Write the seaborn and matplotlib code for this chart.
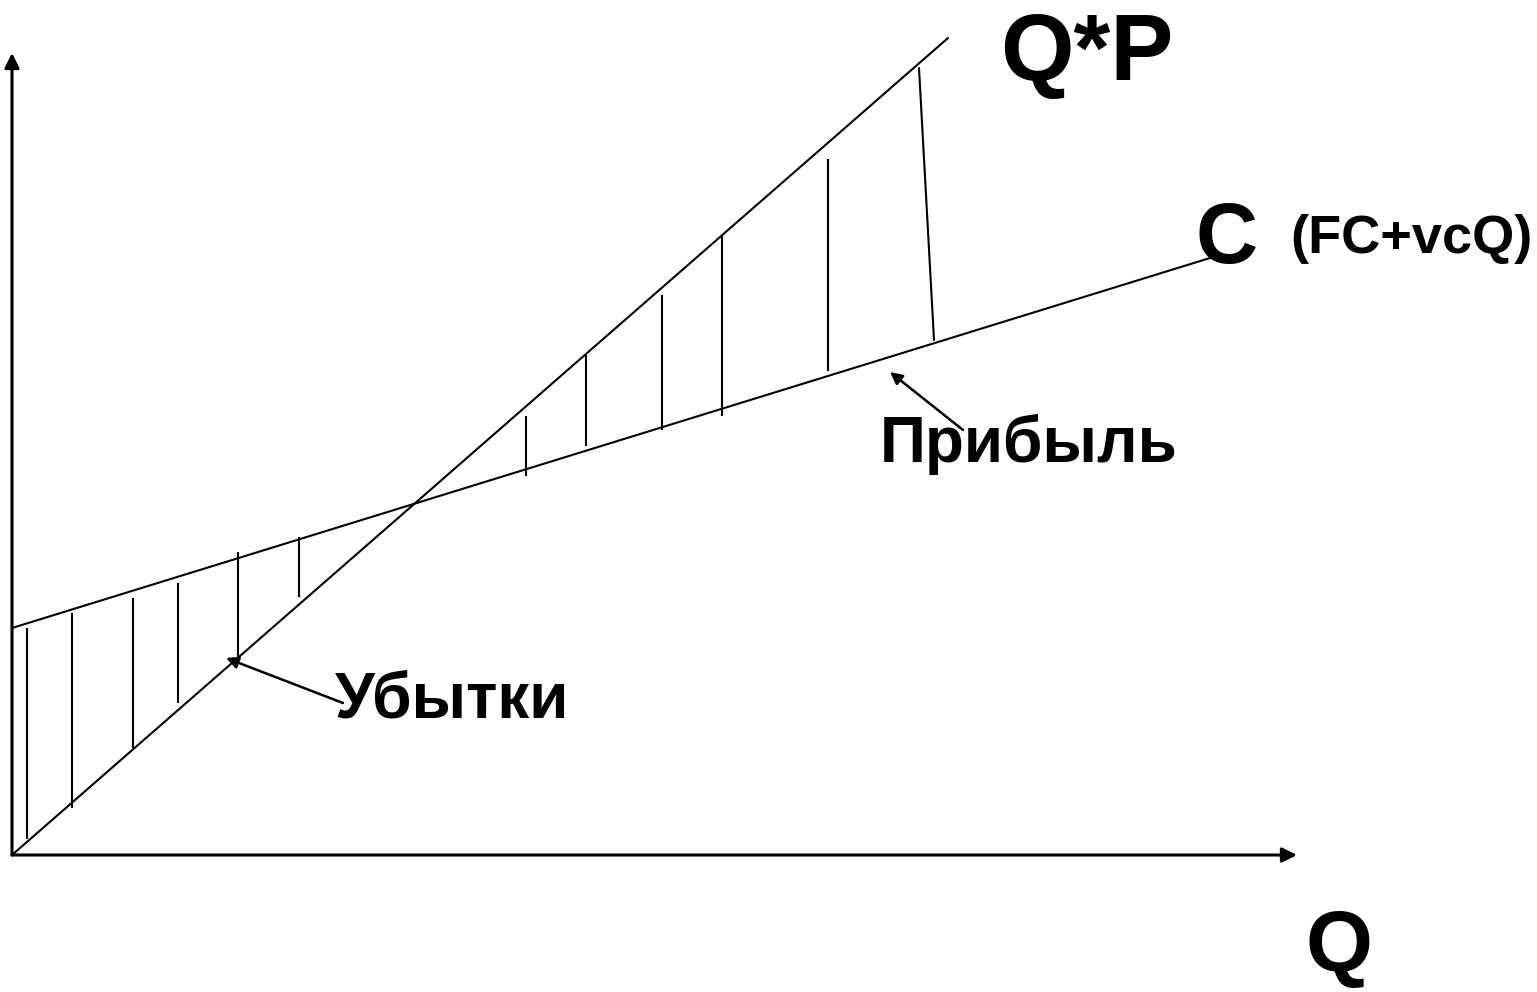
# Точка безубыточности: выручка Q*P и затраты C = FC + vc*Q
import seaborn as sns
import matplotlib.pyplot as plt
import pandas as pd

# выручка и затраты
q_rev = [0, 9.36]
rev = [0, 8.17]
q_cost = [0, 11.98]
cost = [2.27, 5.97]

# штриховка зоны убытков
loss_q = [0.15, 0.60, 1.21, 1.66, 2.26, 2.87]
loss_top = [2.27, 2.42, 2.57, 2.72, 3.03, 3.18]
loss_bottom = [0.16, 0.47, 1.07, 1.52, 1.98, 2.58]

# штриховка зоны прибыли
profit_q = [5.14, 5.74, 6.50, 7.10, 8.16]
profit_top = [4.39, 5.00, 5.60, 6.20, 6.96]
profit_bottom = [3.79, 4.09, 4.25, 4.39, 4.84]
last_q = [9.07, 9.22]
last_val = [7.87, 5.15]

sns.set_style('white')
plt.rcParams['font.family'] = ['Liberation Sans', 'DejaVu Sans']
plt.rcParams['font.weight'] = 'bold'
plt.rcParams['text.color'] = 'black'

fig = plt.figure(figsize=(15.37, 9.92), dpi=100)
ax = fig.add_axes([0, 0, 1, 1])

df_rev = pd.DataFrame({'Q': q_rev, 'V': rev})
df_cost = pd.DataFrame({'Q': q_cost, 'V': cost})
sns.lineplot(x='Q', y='V', data=df_rev, color='black', lw=1.5, ax=ax)
sns.lineplot(x='Q', y='V', data=df_cost, color='black', lw=1.5, ax=ax)

ax.vlines(loss_q, loss_bottom, loss_top, color='black', lw=1.5)
ax.vlines(profit_q, profit_bottom, profit_top, color='black', lw=1.5)
ax.plot(last_q, last_val, color='black', lw=1.5)

# оси со стрелками
axis_kw = dict(arrowstyle='-|>', color='black', lw=2.2, mutation_scale=22,
               shrinkA=0, shrinkB=0)
ax.annotate('', xy=(12.85, 0), xytext=(0, 0), arrowprops=axis_kw)
ax.annotate('', xy=(0, 8.02), xytext=(0, 0), arrowprops=axis_kw)

# подписи
ax.text(9.88, 7.75, 'Q*P', fontsize=68, fontweight='bold', va='baseline')
ax.text(11.83, 5.92, 'C', fontsize=62, fontweight='bold', va='baseline')
ax.text(12.78, 6.02, '(FC+vcQ)', fontsize=39, fontweight='bold', va='baseline')
ax.text(12.93, -1.16, 'Q', fontsize=62, fontweight='bold', va='baseline')

ptr_kw = dict(arrowstyle='-|>', color='black', lw=1.8, mutation_scale=18,
              shrinkA=0, shrinkB=0)
ax.annotate('', xy=(2.14, 1.97), xytext=(3.31, 1.52), arrowprops=ptr_kw)
ax.annotate('', xy=(8.78, 4.83), xytext=(9.51, 4.25), arrowprops=ptr_kw)
ax.text(3.23, 1.38, 'Убытки', fontsize=46, fontweight='bold', va='baseline')
ax.text(8.68, 3.93, 'Прибыль', fontsize=46, fontweight='bold', va='baseline')

ax.set_xlim(-0.12, 15.25)
ax.set_ylim(-1.37, 8.55)
ax.set_axis_off()

fig.savefig('out.png', dpi=100)
